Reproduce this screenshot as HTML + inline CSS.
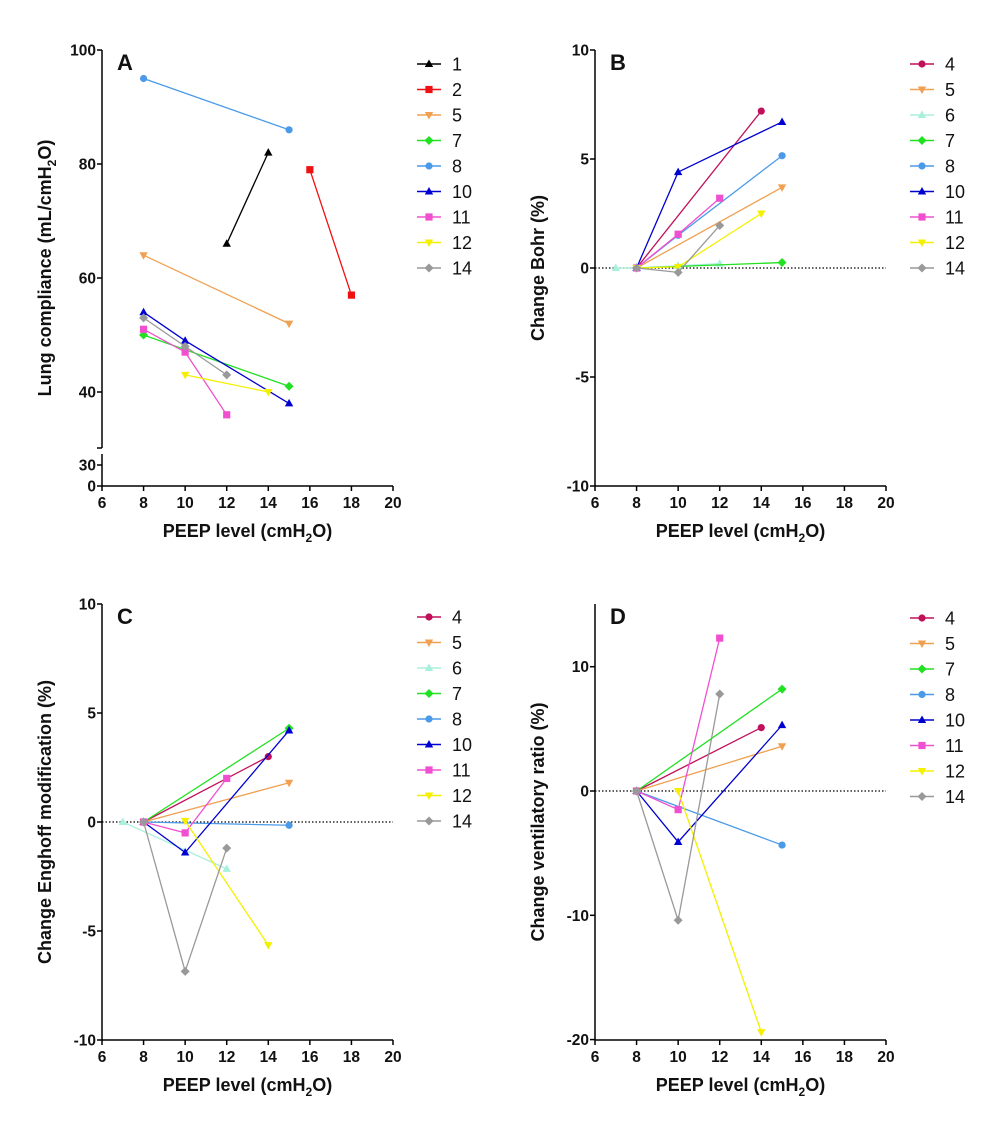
<!DOCTYPE html>
<html><head><meta charset="utf-8">
<style>
body{margin:0;background:#fff;}
svg{display:block;font-family:"Liberation Sans",Arial,sans-serif;}
.tk{font-size:15.5px;font-weight:bold;fill:#111;}
.tt{font-size:18px;font-weight:bold;fill:#111;}
.lg{font-size:18px;fill:#111;}
.pl{font-size:22px;font-weight:bold;fill:#111;}
</style></head>
<body>
<svg id="fig" width="1000" height="1130" viewBox="0 0 1000 1130"></svg>
<script>
// ---- Series styles ----
const seriesColor = {"1":"#000000","2":"#ee1111","4":"#c0105a","5":"#f0a050","6":"#a8f0dc","7":"#22e022","8":"#4a9ae8","10":"#0000d0","11":"#f050d0","12":"#f5f000","14":"#999999"};
const seriesMarker = {"1":"tri","2":"sq","4":"circ","5":"tridown","6":"tri","7":"dia","8":"circ","10":"tri","11":"sq","12":"tridown","14":"dia"};
const xTicks = [6,8,10,12,14,16,18,20];

// ---- Panel A ----
const aSeries = ["1","2","5","7","8","10","11","12","14"];
const aX = [[12,14],[16,18],[8,15],[8,15],[8,15],[8,10,15],[8,10,12],[10,14],[8,10,12]];
const aY = [[66,82],[79,57],[64,52],[50,41],[95,86],[54,49,38],[51,47,36],[43,40],[53,48,43]];
const aYTicks = [40,60,80,100];
const aYTicksLow = [0,30];

// ---- Panel B ----
const bSeries = ["4","5","6","7","8","10","11","12","14"];
const bX = [[8,14],[8,15],[7,8,10,12],[8,15],[8,10,15],[8,10,15],[8,10,12],[8,10,14],[8,10,12]];
const bY = [[0,7.2],[0,3.7],[0,0,0.1,0.2],[0,0.25],[0,1.5,5.15],[0,4.4,6.7],[0,1.55,3.2],[0,0.05,2.5],[0,-0.2,1.95]];
const bYTicks = [-10,-5,0,5,10];

// ---- Panel C ----
const cSeries = ["4","5","6","7","8","10","11","12","14"];
const cX = [[8,14],[8,15],[7,12],[8,15],[8,15],[8,10,15],[8,10,12],[10,14],[8,10,12]];
const cY = [[0,3],[0,1.8],[0,-2.15],[0,4.3],[0,-0.15],[0,-1.4,4.2],[0,-0.5,2],[0.05,-5.65],[0,-6.85,-1.2]];
const cYTicks = [-10,-5,0,5,10];

// ---- Panel D ----
const dSeries = ["4","5","7","8","10","11","12","14"];
const dX = [[8,14],[8,15],[8,15],[8,15],[8,10,15],[8,10,12],[10,14],[8,10,12]];
const dY = [[0,5.1],[0,3.6],[0,8.2],[0,-4.35],[0,-4.1,5.3],[0,-1.5,12.3],[0,-19.4],[0,-10.4,7.8]];
const dYTicks = [-20,-10,0,10];

const NS="http://www.w3.org/2000/svg";
const svg=document.getElementById('fig');
function mk(tag,attrs,parent,txt){const e=document.createElementNS(NS,tag);for(const k in attrs)e.setAttribute(k,attrs[k]);if(txt!==undefined)e.textContent=txt;(parent||svg).appendChild(e);return e;}

function marker(g,type,cx,cy,col){
  let e;
  const r=3.6;
  if(type==="circ") e=mk('circle',{cx:cx,cy:cy,r:r,fill:col},g);
  else if(type==="sq") e=mk('rect',{x:cx-r,y:cy-r,width:2*r,height:2*r,fill:col},g);
  else if(type==="tri") e=mk('polygon',{points:`${cx},${cy-4.5} ${cx+4.2},${cy+3} ${cx-4.2},${cy+3}`,fill:col},g);
  else if(type==="tridown") e=mk('polygon',{points:`${cx},${cy+4.5} ${cx+4.2},${cy-3} ${cx-4.2},${cy-3}`,fill:col},g);
  else e=mk('polygon',{points:`${cx},${cy-4.5} ${cx+4.5},${cy} ${cx},${cy+4.5} ${cx-4.5},${cy}`,fill:col},g);
  
  
}

function panel(o){
  const g=mk('g',{},svg);
  
  
  const x0=o.left, x1=o.left+291;
  const xs=v=>x0+(v-6)/14*291;
  const ys=o.ys;
  const xa=mk('g',{},g);
  
  
  mk('line',{x1:x0,y1:o.bottom,x2:x1,y2:o.bottom,stroke:'#000','stroke-width':1.5},xa);
  xTicks.forEach(t=>{
    mk('line',{x1:xs(t),y1:o.bottom,x2:xs(t),y2:o.bottom+5,stroke:'#000','stroke-width':1.5},xa);
    const l=mk('text',{x:xs(t),y:o.bottom+22,'text-anchor':'middle',class:'tk'},xa,String(t));
    
    
  });
  const xt=mk('text',{x:(x0+x1)/2,y:o.bottom+51,'text-anchor':'middle',class:'tt'},xa);
  
  
  xt.innerHTML='PEEP level (cmH<tspan dy="5" font-size="12">2</tspan><tspan dy="-5">O)</tspan>';
  const ya=mk('g',{},g);
  
  
  if(o.brk){
    mk('line',{x1:x0,y1:o.top,x2:x0,y2:o.brk[0],stroke:'#000','stroke-width':1.5},ya);
    mk('line',{x1:x0-5,y1:o.brk[0],x2:x0,y2:o.brk[0],stroke:'#000','stroke-width':1.5},ya);
    mk('line',{x1:x0,y1:o.brk[1],x2:x0,y2:o.bottom,stroke:'#000','stroke-width':1.5},ya);
  } else mk('line',{x1:x0,y1:o.top,x2:x0,y2:o.bottom,stroke:'#000','stroke-width':1.5},ya);
  o.yTicks.forEach(t=>{
    const y=ys(t);
    mk('line',{x1:x0-5,y1:y,x2:x0,y2:y,stroke:'#000','stroke-width':1.5},ya);
    const l=mk('text',{x:x0-6,y:y+5.5,'text-anchor':'end',class:'tk'},ya,String(t));
    
    
  });
  (o.yTicksLow||[]).forEach(t=>{
    const y=o.ysLow(t);
    mk('line',{x1:x0-5,y1:y,x2:x0,y2:y,stroke:'#000','stroke-width':1.5},ya);
    const l=mk('text',{x:x0-6,y:y+5.5,'text-anchor':'end',class:'tk'},ya,String(t));
    
    
  });
  const yt=mk('text',{transform:`translate(${o.left-51},${o.ytY}) rotate(-90)`,'text-anchor':'middle',class:'tt'},ya);
  
  
  yt.innerHTML=o.ytitle;
  if(o.zero){
    const z=mk('line',{x1:x0,y1:ys(0),x2:x1,y2:ys(0),stroke:'#000','stroke-width':1.2,'stroke-dasharray':'1.5,2'},g);
    
    
  }
  const pl=mk('text',{x:x0+15,y:o.top+20,class:'pl'},g,o.letter);
  
  
  o.series.forEach((s,i)=>{
    const sg=mk('g',{},g);
    
    
    const col=seriesColor[s];
    const pts=o.X[i].map((x,j)=>[xs(x),ys(o.Y[i][j])]);
    const pl=mk('polyline',{points:pts.map(p=>p.join(',')).join(' '),fill:'none',stroke:col,'stroke-width':1.3},sg);
    
    
    pts.forEach(p=>marker(sg,seriesMarker[s],p[0],p[1],col));
    const ly=o.legY+i*25.5, lx=o.left+315;
    const le=mk('g',{},g);
    
    
    mk('line',{x1:lx,y1:ly,x2:lx+24,y2:ly,stroke:col,'stroke-width':1.5},le);
    marker(le,seriesMarker[s],lx+12,ly,col);
    mk('text',{x:lx+35,y:ly+6.5,class:'lg'},le,s);
  });
}

const sub='<tspan dy="5" font-size="12">2</tspan><tspan dy="-5">O)</tspan>';
panel({letter:'A',left:102,top:50,bottom:486,ys:v=>50+(100-v)*5.7,brk:[448,454],yTicks:aYTicks,yTicksLow:aYTicksLow,ysLow:v=>486-v*0.7,
  series:aSeries,X:aX,Y:aY,legY:64,ytY:268,ytitle:'Lung compliance (mL/cmH'+sub});
panel({letter:'B',left:595,top:50,bottom:486,ys:v=>268-v*21.8,yTicks:bYTicks,zero:true,
  series:bSeries,X:bX,Y:bY,legY:64,ytY:268,ytitle:'Change Bohr (%)'});
panel({letter:'C',left:102,top:604,bottom:1040,ys:v=>822-v*21.8,yTicks:cYTicks,zero:true,
  series:cSeries,X:cX,Y:cY,legY:617,ytY:822,ytitle:'Change Enghoff modification (%)'});
panel({letter:'D',left:595,top:604,bottom:1040,ys:v=>791-v*12.43,yTicks:dYTicks,zero:true,
  series:dSeries,X:dX,Y:dY,legY:618,ytY:822,ytitle:'Change ventilatory ratio (%)'});
</script>
</body></html>
